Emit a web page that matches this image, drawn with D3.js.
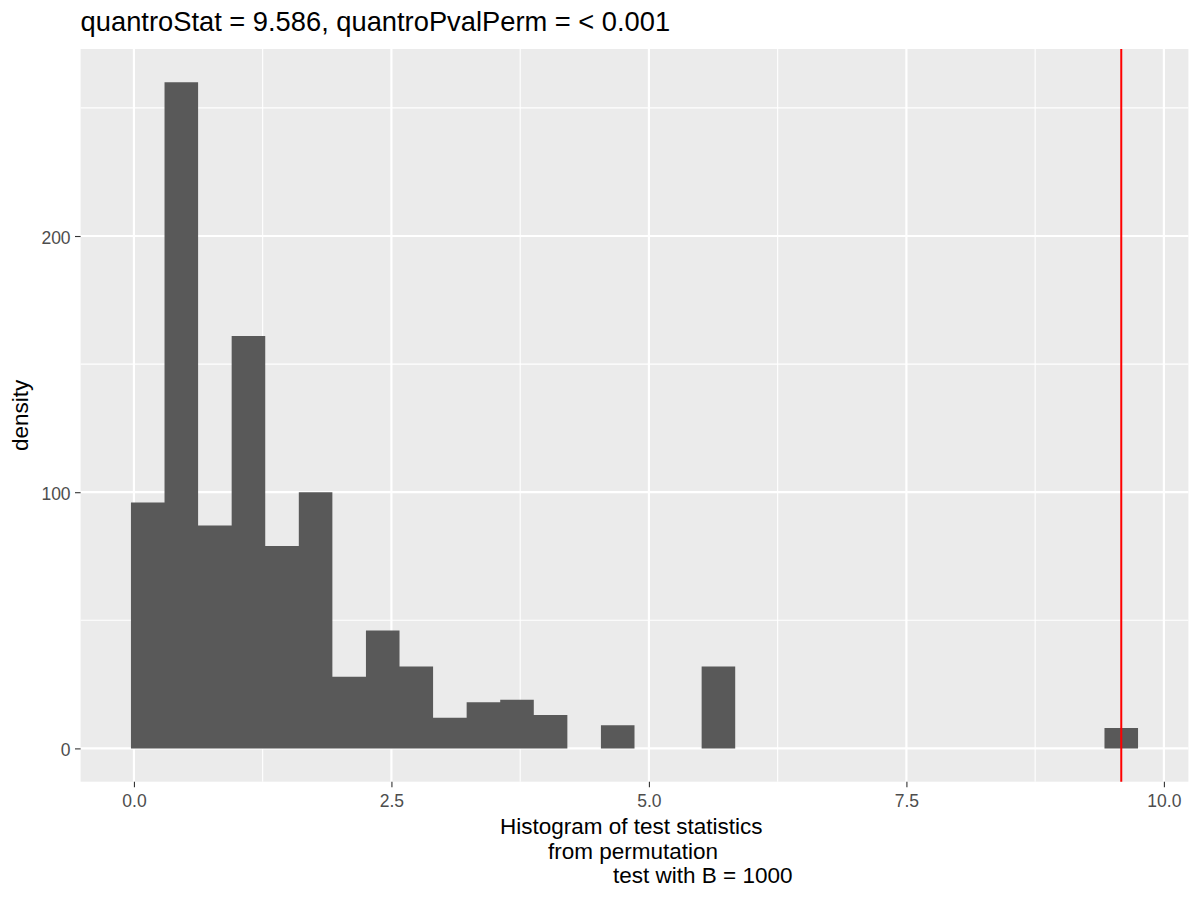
<!DOCTYPE html>
<html>
<head>
<meta charset="utf-8">
<script src="https://cdn.jsdelivr.net/npm/d3@7"></script>
<style>
  html, body { margin: 0; padding: 0; background: #fff; }
  svg { display: block; font-family: "Liberation Sans", Arial, sans-serif; }
  .tick text { fill: #4d4d4d; font-size: 17.5px; }
  .tick line { stroke: #333333; stroke-width: 1.1; }
</style>
</head>
<body>
<svg id="chart" width="1200" height="900"></svg>
<script>
/* Histograma de estadísticos de permutación (estilo ggplot2) */

// datos
const quantroStat = 9.586;
const firstBinCenter = 0.134;
const densities = [96, 260, 87, 161, 79, 100, 28, 46, 32, 12, 18, 19, 13, 0, 9,
                   0, 0, 32, 0, 0, 0, 0, 0, 0, 0, 0, 0, 0, 0, 8];
const xTicks = [0, 2.5, 5, 7.5, 10];
const xMinor = [1.25, 3.75, 6.25, 8.75];
const yTicks = [0, 100, 200];
const yMinor = [50, 150, 250];
const titleText = "quantroStat = 9.586, quantroPvalPerm = < 0.001";
const xTitleLines = ["Histogram of test statistics", "from permutation", "test with B = 1000"];
const yTitle = "density";

// bins: centros desde firstBinCenter hasta quantroStat
const nBins = densities.length;
const binWidth = (quantroStat - firstBinCenter) / (nBins - 1);
const bins = densities.map((d, i) => ({
  x0: firstBinCenter + (i - 0.5) * binWidth,
  x1: firstBinCenter + (i + 0.5) * binWidth,
  y: d
}));

const svg = d3.select("#chart");
const panel = { left: 80.6, right: 1188.4, top: 49, bottom: 781.7 };

// expansión del 5% como ggplot
const xLo = bins[0].x0, xHi = bins[nBins - 1].x1;
const xPad = (xHi - xLo) * 0.05;
const x = d3.scaleLinear().domain([xLo - xPad, xHi + xPad]).range([panel.left, panel.right]);
const yMax = d3.max(densities);
const y = d3.scaleLinear().domain([-0.05 * yMax, 1.05 * yMax]).range([panel.bottom, panel.top]);

// fondo del panel
svg.append("rect")
  .attr("x", panel.left).attr("y", panel.top)
  .attr("width", panel.right - panel.left).attr("height", panel.bottom - panel.top)
  .attr("fill", "#ebebeb");

const grid = svg.append("g");
grid.selectAll("line.xminor").data(xMinor).enter().append("line")
  .attr("x1", d => x(d)).attr("x2", d => x(d))
  .attr("y1", panel.top).attr("y2", panel.bottom)
  .attr("stroke", "#fff").attr("stroke-width", 1.1);
grid.selectAll("line.yminor").data(yMinor).enter().append("line")
  .attr("y1", d => y(d)).attr("y2", d => y(d))
  .attr("x1", panel.left).attr("x2", panel.right)
  .attr("stroke", "#fff").attr("stroke-width", 1.1);
grid.selectAll("line.xmajor").data(xTicks).enter().append("line")
  .attr("x1", d => x(d)).attr("x2", d => x(d))
  .attr("y1", panel.top).attr("y2", panel.bottom)
  .attr("stroke", "#fff").attr("stroke-width", 2.2);
grid.selectAll("line.ymajor").data(yTicks).enter().append("line")
  .attr("y1", d => y(d)).attr("y2", d => y(d))
  .attr("x1", panel.left).attr("x2", panel.right)
  .attr("stroke", "#fff").attr("stroke-width", 2.2);

// barras como un solo contorno escalonado: sin juntas entre barras contiguas
const steps = bins.flatMap(b => [[b.x0, b.y], [b.x1, b.y]]);
const area = d3.area()
  .x(d => x(d[0]))
  .y0(y(0))
  .y1(d => y(d[1]));
svg.append("path")
  .datum(steps)
  .attr("d", area)
  .attr("fill", "#595959");

// línea del estadístico observado
svg.append("line")
  .attr("x1", x(quantroStat)).attr("x2", x(quantroStat))
  .attr("y1", panel.top).attr("y2", panel.bottom)
  .attr("stroke", "#ff0000").attr("stroke-width", 2);

// ejes
const fmt = d3.format(".1f");
const gx = svg.append("g").attr("transform", `translate(0,${panel.bottom})`)
  .call(d3.axisBottom(x).tickValues(xTicks).tickFormat(fmt).tickSize(5.6));
gx.select(".domain").remove();
gx.selectAll(".tick text").attr("y", 25).attr("dy", 0);

const gy = svg.append("g").attr("transform", `translate(${panel.left},0)`)
  .call(d3.axisLeft(y).tickValues(yTicks).tickSize(5.6));
gy.select(".domain").remove();
gy.selectAll(".tick text").attr("x", -10).attr("dy", 7.5);

// títulos
svg.append("text")
  .attr("x", panel.left).attr("y", 31)
  .attr("font-size", 27.3).attr("fill", "#000")
  .text(titleText);

// cada línea lleva su propio desplazamiento (espacios del texto original)
const xTitleStarts = [500, 548, 613];
svg.append("g").selectAll("text").data(xTitleLines).enter().append("text")
  .attr("x", (d, i) => xTitleStarts[i])
  .attr("y", (d, i) => 834 + i * 24.5)
  .attr("font-size", 22.5).attr("fill", "#000")
  .text(d => d);

svg.append("text")
  .attr("transform", `translate(28,${(panel.top + panel.bottom) / 2}) rotate(-90)`)
  .attr("text-anchor", "middle")
  .attr("font-size", 22.5).attr("fill", "#000")
  .text(yTitle);
</script>
</body>
</html>
